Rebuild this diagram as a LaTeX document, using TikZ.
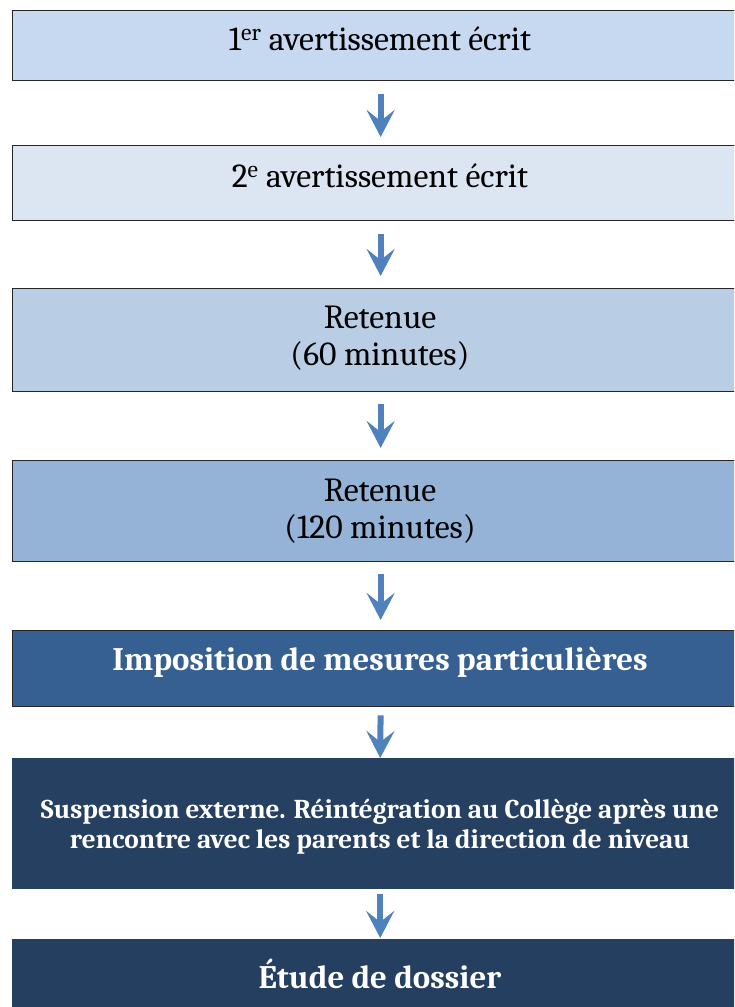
\documentclass[tikz,border=0pt]{standalone}
\usepackage{fontspec}
\setmainfont{Caladea}
\usetikzlibrary{arrows.meta}
\definecolor{fillA}{HTML}{C6D9F1}
\definecolor{fillB}{HTML}{DCE6F2}
\definecolor{fillC}{HTML}{B9CDE5}
\definecolor{fillD}{HTML}{95B3D7}
\definecolor{fillE}{HTML}{376092}
\definecolor{fillF}{HTML}{254061}
\definecolor{fillG}{HTML}{243F60}
\definecolor{arrowblue}{HTML}{4F81BD}
\definecolor{edge}{HTML}{262626}
\begin{document}
\begin{tikzpicture}[x=1pt,y=-1pt,
  box/.style={rectangle, anchor=north west, minimum width=736pt, inner sep=0pt},
  bordered/.style={draw=edge, line width=1.3pt},
  txt/.style={inner sep=0pt, anchor=base, text=black, font=\fontsize{33.7}{37}\selectfont},
  btxt/.style={inner sep=0pt, anchor=base, text=white, font=\fontsize{32.8}{37}\bfseries\selectfont},
  stxt/.style={inner sep=0pt, anchor=base, text=white, font=\fontsize{27.2}{30.5}\bfseries\selectfont},
  arr/.style={draw=arrowblue, line width=6pt, -{Stealth[length=27pt,width=28pt,inset=11pt]}}
]
\useasboundingbox (0,0) rectangle (734,1007);
\clip (0,0) rectangle (734,1007);

\node[box, bordered, fill=fillA, minimum height=70pt]  (b1) at (12,10)  {};
\node[box, bordered, fill=fillB, minimum height=75pt]  (b2) at (12,145) {};
\node[box, bordered, fill=fillC, minimum height=103pt] (b3) at (12,288) {};
\node[box, bordered, fill=fillD, minimum height=101pt] (b4) at (12,460) {};
\node[box, bordered, fill=fillE, minimum height=76pt]  (b5) at (12,630) {};
\node[box, fill=fillF, minimum height=131pt] (b6) at (12,758) {};
\node[box, fill=fillG, minimum height=100pt] (b7) at (12,939) {};

\node[txt]  (t1) at (380,50)  {1\textsuperscript{er} avertissement écrit};
\node[txt]  (t2) at (380,187) {2\textsuperscript{e} avertissement écrit};
\node[txt]  (t3) at (380,328) {\begin{tabular}[t]{@{}c@{}}Retenue\\(60 minutes)\end{tabular}};
\node[txt]  (t4) at (380,501) {\begin{tabular}[t]{@{}c@{}}Retenue\\(120 minutes)\end{tabular}};
\node[btxt] (t5) at (380,670) {Imposition de mesures particulières};
\node[stxt] (t6) at (380,818) {\begin{tabular}[t]{@{}c@{}}Suspension externe. Réintégration au Collège après une\\rencontre avec les parents et la direction de niveau\end{tabular}};
\node[btxt] (t7) at (380,988) {Étude de dossier};

\draw[arr, shorten <=13pt, shorten >=8pt]  (b1.south) -- (b2.north);
\draw[arr, shorten <=13pt, shorten >=12pt] (b2.south) -- (b3.north);
\draw[arr, shorten <=12pt, shorten >=12pt] (b3.south) -- (b4.north);
\draw[arr, shorten <=12pt, shorten >=10pt] (b4.south) -- (b5.north);
\draw[arr, shorten <=8pt, shorten >=0pt]   (b5.south) -- (b6.north);
\draw[arr, shorten <=5pt, shorten >=1pt]   (b6.south) -- (b7.north);
\end{tikzpicture}
\end{document}
